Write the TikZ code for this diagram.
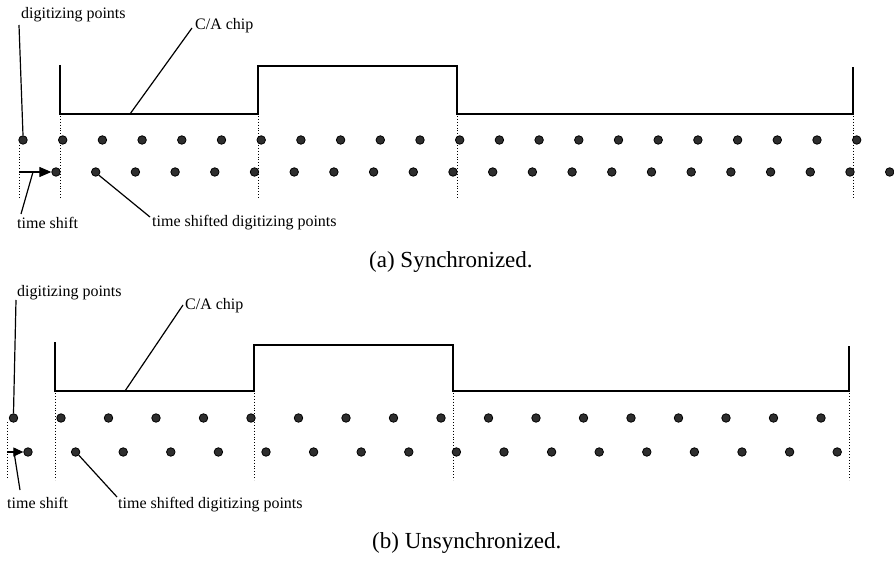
\documentclass[tikz,border=0pt]{standalone}
\usepackage{fontspec}
\setmainfont{Liberation Serif}
\usetikzlibrary{arrows.meta}

\begin{document}
\begin{tikzpicture}[x=1pt, y=-1pt,
  dot/.style = {circle, draw=black, fill=black!82, line width=0.8pt, inner sep=0pt, minimum size=8.5pt},
  lbl/.style = {anchor=base west, inner sep=0pt, font=\fontsize{16}{18}\selectfont},
  capt/.style = {anchor=base west, inner sep=0pt, font=\fontsize{23}{26}\selectfont},
  chip/.style = {line width=1.7pt},
  gridline/.style = {dotted, line width=0.9pt},
  lead/.style = {line width=1.2pt},
  shift arrow/.style = {line width=1.1pt, -{Triangle[length=12pt, width=10pt]}}]
  \useasboundingbox (0,0) rectangle (894,561);

  % (a) synchronized
  \draw[chip] (60,65) |- (258,114) |- (457,66) |- (853,114) -- (853,67);
  \coordinate (chipA) at (130,114);
  \foreach \x in {60,258,457,853}
    \draw[gridline] (\x,116) -- (\x,200);
  \draw[gridline] (19,145) -- (19,200);
  \foreach \k in {0,...,21} {
    \node[dot] (pA\k) at (23+39.7*\k,140) {};
    \node[dot] (sA\k) at (56+39.7*\k,172) {};
  }
  \coordinate (t0A) at (19,172);
  \coordinate (tlA) at (33,172);
  \draw[shift arrow] (t0A) -- (sA0.west);
  \node[lbl] (dpA) at (21,19) {digitizing points};
  \node[lbl] (caA) at (195,30) {C/A chip};
  \node[lbl] (tsA) at (17,229) {time shift};
  \node[lbl] (tsdA) at (152,227) {time shifted digitizing points};
  \draw[lead] ([xshift=-2pt,yshift=-6pt]dpA.base west) -- (pA0.north);
  \draw[lead] ([xshift=-3pt,yshift=2pt]caA.base west) -- (chipA);
  \draw[lead] ([xshift=4pt,yshift=15pt]tsA.base west) -- (tlA);
  \draw[lead] (sA1.south east) -- ([xshift=-2pt,yshift=10pt]tsdA.base west);
  \node[capt] (capA) at (369,268) {(a) Synchronized.};

  % (b) unsynchronized
  \draw[chip] (55,342) |- (254,391) |- (453,345) |- (849,391) -- (849,346);
  \coordinate (chipB) at (125,391);
  \foreach \x in {55,254,453,849}
    \draw[gridline] (\x,393) -- (\x,480);
  \draw[gridline] (7,422) -- (7,478);
  \foreach \k in {0,...,17} {
    \node[dot] (pB\k) at (13.5+47.5*\k,418) {};
    \node[dot] (sB\k) at (28+47.6*\k,452) {};
  }
  \coordinate (t0B) at (7,452);
  \coordinate (tlB) at (14,452);
  \draw[shift arrow, -{Triangle[length=10pt, width=9pt]}] (t0B) -- (sB0.west);
  \node[lbl] (dpB) at (17,297) {digitizing points};
  \node[lbl] (caB) at (185,309) {C/A chip};
  \node[lbl] (tsB) at (7,508) {time shift};
  \node[lbl] (tsdB) at (118,508) {time shifted digitizing points};
  \draw[lead] ([xshift=-1pt,yshift=-3pt]dpB.base west) -- (pB0.north);
  \draw[lead] ([xshift=-2pt,yshift=4pt]caB.base west) -- (chipB);
  \draw[lead] ([xshift=13pt,yshift=18pt]tsB.base west) -- (tlB);
  \draw[lead] (sB1.south east) -- ([xshift=-1pt,yshift=11pt]tsdB.base west);
  \node[capt] (capB) at (372,548) {(b) Unsynchronized.};
\end{tikzpicture}
\end{document}
